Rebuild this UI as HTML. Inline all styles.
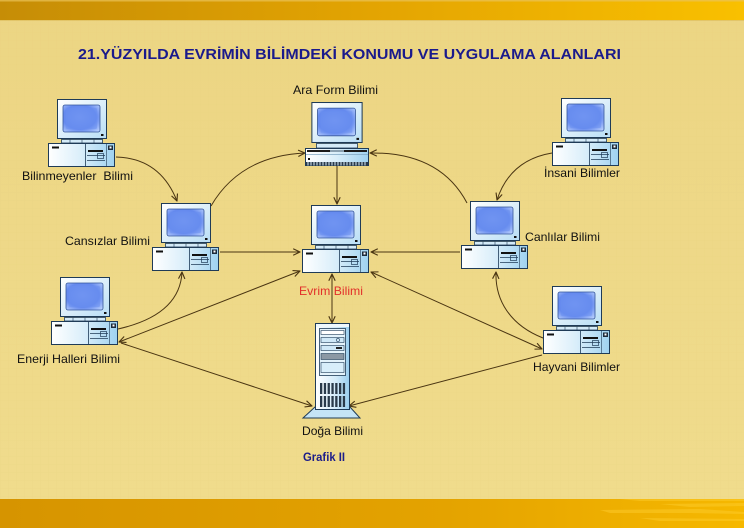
<!DOCTYPE html>
<html>
<head>
<meta charset="utf-8">
<style>
  html,body{margin:0;padding:0;background:#eed785;}
  body{width:744px;height:528px;overflow:hidden;}
  svg{display:block;}
  .lbl{font-family:"Liberation Sans",Arial,sans-serif;font-size:12px;fill:#111;}
</style>
</head>
<body>
<svg width="744" height="528" viewBox="0 0 744 528" xmlns="http://www.w3.org/2000/svg">
  <defs>
    <linearGradient id="topband" x1="0" y1="0" x2="1" y2="0">
      <stop offset="0" stop-color="#c68d06"/>
      <stop offset="0.5" stop-color="#e3a402"/>
      <stop offset="1" stop-color="#f9c000"/>
    </linearGradient>
    <linearGradient id="botband" x1="0" y1="0" x2="1" y2="0">
      <stop offset="0" stop-color="#d69400"/>
      <stop offset="0.6" stop-color="#e4a300"/>
      <stop offset="1" stop-color="#f6b800"/>
    </linearGradient>
    <linearGradient id="bg" x1="0" y1="0" x2="0" y2="1">
      <stop offset="0" stop-color="#ecd583"/>
      <stop offset="1" stop-color="#f0dc8d"/>
    </linearGradient>
    <pattern id="grid" width="8" height="8" patternUnits="userSpaceOnUse">
      <path d="M8 0 L0 0 0 8" fill="none" stroke="#e6cf7c" stroke-width="0.6"/>
    </pattern>
    <linearGradient id="frame" x1="0" y1="0" x2="1" y2="1">
      <stop offset="0" stop-color="#ffffff"/>
      <stop offset="1" stop-color="#b8def5"/>
    </linearGradient>
    <linearGradient id="baseg" x1="0" y1="0" x2="1" y2="0">
      <stop offset="0" stop-color="#ffffff"/>
      <stop offset="0.5" stop-color="#d9eefa"/>
      <stop offset="1" stop-color="#9fd2f0"/>
    </linearGradient>
    <radialGradient id="screen" cx="0.45" cy="0.45" r="0.75">
      <stop offset="0" stop-color="#7698f3"/>
      <stop offset="0.6" stop-color="#6489ee"/>
      <stop offset="1" stop-color="#c0d6ff"/>
    </radialGradient>
    <linearGradient id="towerg" x1="0" y1="0" x2="1" y2="0">
      <stop offset="0" stop-color="#ffffff"/>
      <stop offset="0.6" stop-color="#d3ebf9"/>
      <stop offset="1" stop-color="#98cdee"/>
    </linearGradient>

    <marker id="ah" viewBox="0 0 10 10" refX="9.5" refY="5" markerWidth="8" markerHeight="8" markerUnits="userSpaceOnUse" orient="auto-start-reverse">
      <path d="M1,1 L9.5,5 L1,9" fill="none" stroke="#4a3512" stroke-width="1.4"/>
    </marker>

    <symbol id="monitor" viewBox="0 0 50 40" width="50" height="40" overflow="visible">
      <rect x="0.5" y="0.5" width="49" height="39" fill="url(#frame)" stroke="#1f3b57" stroke-width="1"/>
      <rect x="6" y="6" width="37" height="27" rx="2" fill="url(#screen)" stroke="#35569a" stroke-width="0.8"/>
      <rect x="9" y="9" width="31" height="21" rx="1.5" fill="#6a8ff0" opacity="0.5"/>
      <rect x="44" y="35" width="2.5" height="2" fill="#111"/>
    </symbol>

    <symbol id="pc" viewBox="0 0 68 68" width="68" height="68" overflow="visible">
      <use href="#monitor" x="9" y="0" width="50" height="40"/>
      <rect x="13.5" y="40.5" width="41" height="3.5" fill="#d4ebf8" stroke="#1f3b57" stroke-width="0.8"/>
      <line x1="22" y1="40.5" x2="22" y2="44" stroke="#1f3b57" stroke-width="0.6"/>
      <line x1="34" y1="40.5" x2="34" y2="44" stroke="#1f3b57" stroke-width="0.6"/>
      <line x1="46" y1="40.5" x2="46" y2="44" stroke="#1f3b57" stroke-width="0.6"/>
      <rect x="0.5" y="44.5" width="66" height="23" fill="url(#baseg)" stroke="#1f3b57" stroke-width="1"/>
      <rect x="4" y="47.5" width="7" height="2" fill="#111"/>
      <line x1="37.5" y1="44.5" x2="37.5" y2="67.5" stroke="#1f3b57" stroke-width="0.8"/>
      <line x1="58.5" y1="44.5" x2="58.5" y2="67.5" stroke="#1f3b57" stroke-width="0.6"/>
      <rect x="40" y="51" width="15" height="2" fill="#111"/>
      <line x1="39" y1="56.5" x2="57" y2="56.5" stroke="#1f3b57" stroke-width="0.7"/>
      <line x1="39" y1="61.5" x2="57" y2="61.5" stroke="#1f3b57" stroke-width="0.7"/>
      <rect x="49.5" y="54.5" width="6" height="5" fill="none" stroke="#1f3b57" stroke-width="0.7"/>
      <rect x="60" y="46.5" width="5" height="4.5" fill="#1c2a3a"/>
      <rect x="61.5" y="47.5" width="2" height="2" fill="#ffffff"/>
    </symbol>
  </defs>

  <rect x="0" y="0" width="744" height="528" fill="url(#bg)"/>
  <rect x="0" y="20" width="744" height="480" fill="url(#grid)" opacity="0.4"/>
  <rect x="0" y="0" width="744" height="20" fill="url(#topband)"/>
  <rect x="0" y="0" width="744" height="1.5" fill="#e9c35a" opacity="0.7"/>
  <rect x="0" y="20" width="744" height="1" fill="#d8b650" opacity="0.5"/>
  <rect x="0" y="499" width="744" height="29" fill="url(#botband)"/>
  <g fill="#ffcf30" opacity="0.45">
    <polygon points="620,499 744,499 744,501 640,501"/>
    <polygon points="660,504 744,503 744,506 690,507"/>
    <polygon points="600,510 700,509 744,512 744,514 690,513 610,513"/>
    <polygon points="640,518 744,519 744,521 660,521"/>
  </g>

  <text x="78" y="59" textLength="543" lengthAdjust="spacingAndGlyphs" font-family="'Liberation Sans',Arial,sans-serif" font-weight="bold" font-size="15" fill="#1a1a8c">21.YÜZYILDA EVRİMİN BİLİMDEKİ KONUMU VE UYGULAMA ALANLARI</text>

  <g fill="none" stroke="#4a3512" stroke-width="1">
    <path d="M116,157 Q160,158 177,201" marker-end="url(#ah)"/>
    <path d="M211,206 Q240,156 305,153" marker-end="url(#ah)"/>
    <path d="M467,203 Q440,152 370,153" marker-end="url(#ah)"/>
    <path d="M552,153 Q510,160 497,200" marker-end="url(#ah)"/>
    <path d="M337,166 L337,204" marker-end="url(#ah)"/>
    <path d="M220,252 L300,252" marker-end="url(#ah)"/>
    <path d="M460,252 L371,252" marker-end="url(#ah)"/>
    <path d="M118,329 Q180,315 182,272" marker-end="url(#ah)"/>
    <path d="M119,342 L300,271" marker-start="url(#ah)" marker-end="url(#ah)"/>
    <path d="M121,343 L312,406" marker-end="url(#ah)"/>
    <path d="M332,274 L332,323" marker-start="url(#ah)" marker-end="url(#ah)"/>
    <path d="M542,349 L371,272" marker-start="url(#ah)" marker-end="url(#ah)"/>
    <path d="M542,355 L349,406" marker-end="url(#ah)"/>
    <path d="M543,338 C510,325 495,300 496,272" marker-end="url(#ah)"/>
  </g>

  <use href="#pc" x="48" y="99" width="68" height="68"/>
  <use href="#pc" x="152" y="203" width="68" height="68"/>
  <use href="#pc" x="302" y="205" width="68" height="68"/>
  <use href="#pc" x="461" y="201" width="68" height="68"/>
  <use href="#pc" x="552" y="98" width="68" height="68"/>
  <use href="#pc" x="51" y="277" width="68" height="68"/>
  <use href="#pc" x="543" y="286" width="68" height="68"/>

  <use href="#monitor" x="311" y="102" width="52" height="41"/>
  <rect x="316.5" y="143.5" width="41" height="4.5" fill="#d4ebf8" stroke="#1f3b57" stroke-width="0.8"/>
  <rect x="305.5" y="148.5" width="63" height="17" fill="url(#baseg)" stroke="#1f3b57" stroke-width="1"/>
  <rect x="307" y="150" width="60" height="2" fill="#1a1a1a"/>
  <rect x="330" y="150" width="14" height="2" fill="#8aa0b0"/>
  <line x1="306" y1="154.5" x2="368" y2="154.5" stroke="#7fa6c2" stroke-width="0.7"/>
  <rect x="308" y="158" width="2" height="2" fill="#111"/>
  <rect x="306" y="162" width="62" height="3.5" fill="#2a3a4a"/>
  <g stroke="#d9eefa" stroke-width="1">
    <line x1="308" y1="162" x2="308" y2="165.5"/><line x1="311" y1="162" x2="311" y2="165.5"/>
    <line x1="314" y1="162" x2="314" y2="165.5"/><line x1="317" y1="162" x2="317" y2="165.5"/>
    <line x1="320" y1="162" x2="320" y2="165.5"/><line x1="323" y1="162" x2="323" y2="165.5"/>
    <line x1="326" y1="162" x2="326" y2="165.5"/><line x1="329" y1="162" x2="329" y2="165.5"/>
    <line x1="332" y1="162" x2="332" y2="165.5"/><line x1="335" y1="162" x2="335" y2="165.5"/>
    <line x1="338" y1="162" x2="338" y2="165.5"/><line x1="341" y1="162" x2="341" y2="165.5"/>
    <line x1="344" y1="162" x2="344" y2="165.5"/><line x1="347" y1="162" x2="347" y2="165.5"/>
    <line x1="350" y1="162" x2="350" y2="165.5"/><line x1="353" y1="162" x2="353" y2="165.5"/>
    <line x1="356" y1="162" x2="356" y2="165.5"/><line x1="359" y1="162" x2="359" y2="165.5"/>
    <line x1="362" y1="162" x2="362" y2="165.5"/><line x1="365" y1="162" x2="365" y2="165.5"/>
  </g>

  <polygon points="303,418 315,407 350,407 360,418" fill="#c4e4f6" stroke="#1f3b57" stroke-width="1"/>
  <rect x="315.5" y="323.5" width="34" height="86" fill="url(#towerg)" stroke="#1f3b57" stroke-width="1"/>
  <rect x="316" y="324" width="33" height="3" fill="#eef8fd"/>
  <rect x="319.5" y="328.5" width="26" height="47" fill="#e4f3fb" stroke="#1f3b57" stroke-width="0.8"/>
  <rect x="321" y="330.5" width="23" height="4" fill="#ffffff" stroke="#1f3b57" stroke-width="0.6"/>
  <rect x="321" y="337.5" width="23" height="5" fill="#cfe8f7" stroke="#1f3b57" stroke-width="0.6"/>
  <circle cx="338" cy="340" r="1.6" fill="none" stroke="#1f3b57" stroke-width="0.6"/>
  <rect x="321" y="345.5" width="23" height="5" fill="#cfe8f7" stroke="#1f3b57" stroke-width="0.6"/>
  <rect x="336" y="347" width="6" height="2" fill="#222"/>
  <rect x="321" y="353.5" width="23" height="6" fill="#8b98a4" stroke="#1f3b57" stroke-width="0.6"/>
  <rect x="321" y="362.5" width="23" height="10" fill="#d8eefa" stroke="#1f3b57" stroke-width="0.6"/>
  <g fill="#2a3a4a">
    <rect x="320" y="383" width="2.3" height="11"/><rect x="323.8" y="383" width="2.3" height="11"/>
    <rect x="327.6" y="383" width="2.3" height="11"/><rect x="331.4" y="383" width="2.3" height="11"/>
    <rect x="335.2" y="383" width="2.3" height="11"/><rect x="339" y="383" width="2.3" height="11"/>
    <rect x="342.8" y="383" width="2.3" height="11"/>
    <rect x="320" y="396" width="2.3" height="11"/><rect x="323.8" y="396" width="2.3" height="11"/>
    <rect x="327.6" y="396" width="2.3" height="11"/><rect x="331.4" y="396" width="2.3" height="11"/>
    <rect x="335.2" y="396" width="2.3" height="11"/><rect x="339" y="396" width="2.3" height="11"/>
    <rect x="342.8" y="396" width="2.3" height="11"/>
  </g>

  <text class="lbl" x="293" y="94" textLength="85" lengthAdjust="spacingAndGlyphs">Ara Form Bilimi</text>
  <text class="lbl" x="22" y="180" textLength="111" lengthAdjust="spacingAndGlyphs">Bilinmeyenler&#160; Bilimi</text>
  <text class="lbl" x="544" y="177" textLength="76" lengthAdjust="spacingAndGlyphs">İnsani Bilimler</text>
  <text class="lbl" x="65" y="245" textLength="85" lengthAdjust="spacingAndGlyphs">Cansızlar Bilimi</text>
  <text class="lbl" x="525" y="241" textLength="75" lengthAdjust="spacingAndGlyphs">Canlılar Bilimi</text>
  <text class="lbl" x="299" y="295" textLength="64" lengthAdjust="spacingAndGlyphs" style="fill:#e2302a">Evrim Bilimi</text>
  <text class="lbl" x="17" y="363" textLength="103" lengthAdjust="spacingAndGlyphs">Enerji Halleri Bilimi</text>
  <text class="lbl" x="533" y="371" textLength="87" lengthAdjust="spacingAndGlyphs">Hayvani Bilimler</text>
  <text class="lbl" x="302" y="435" textLength="61" lengthAdjust="spacingAndGlyphs">Doğa Bilimi</text>
  <text class="lbl" x="303" y="461" textLength="42" lengthAdjust="spacingAndGlyphs" style="fill:#1c1c8a;font-weight:bold">Grafik II</text>
</svg>
</body>
</html>
